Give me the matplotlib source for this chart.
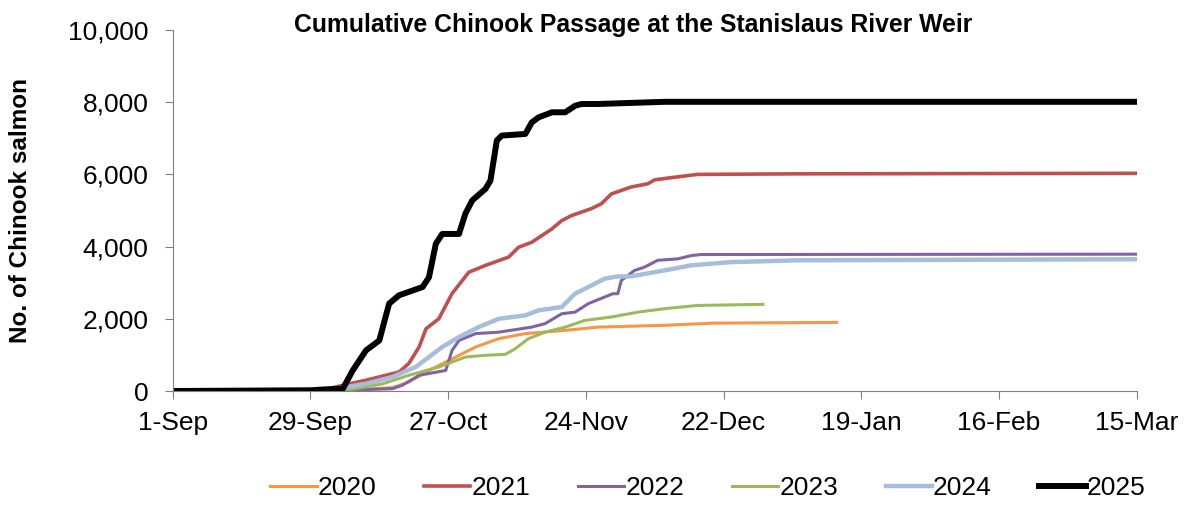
import matplotlib
matplotlib.use("Agg")
import matplotlib.pyplot as plt

plt.rcParams['font.family'] = ['Liberation Sans', 'DejaVu Sans']

# days since 1-Sep, cumulative counts
days_2020 = [0, 30, 35.3, 44.7, 48, 51.5, 56.2, 61.6, 66.3, 71.7, 79.8, 86.5, 100, 110, 135]
vals_2020 = [0, 0, 20, 95, 250, 525, 850, 1220, 1450, 1590, 1680, 1770, 1820, 1880, 1900]

days_2021 = [0, 30, 34.6, 39.3, 42, 46, 48, 50.1, 51.5, 54.1, 56.8, 60.2, 63.6, 68.3, 70.3, 73,
             77.1, 79.1, 81.1, 85.1, 87.2, 89.2, 93.2, 96.6, 98, 102, 106.7, 127, 196]
vals_2021 = [0, 0, 160, 300, 390, 525, 760, 1220, 1725, 2000, 2700, 3290, 3480, 3710, 3980, 4120,
             4490, 4720, 4860, 5050, 5190, 5460, 5650, 5740, 5850, 5920, 6000, 6015, 6030]

days_2022 = [0, 30, 35.3, 39.3, 44.7, 46.7, 50.1, 55.5, 56.8, 58.2, 61.6, 66.3, 73, 75.7, 79.1,
             81.8, 84.5, 89.5, 90.5, 91.2, 93.9, 95.9, 98.6, 102.7, 105.4, 107.4, 196]
vals_2022 = [0, 0, 20, 40, 65, 160, 435, 570, 1125, 1400, 1590, 1630, 1770, 1865, 2140,
             2185, 2420, 2695, 2695, 3060, 3340, 3430, 3620, 3660, 3750, 3780, 3790]

days_2023 = [0, 30, 35.3, 42.7, 48, 54.1, 59.5, 63.6, 67.6, 69.7, 72.3, 75.7, 79.8, 83.8, 89.2,
             94.6, 100, 106.7, 120]
vals_2023 = [0, 0, 20, 200, 435, 665, 940, 990, 1015, 1175, 1450, 1630, 1770, 1955, 2050,
             2185, 2280, 2370, 2400]

days_2024 = [0, 30, 35.3, 39.3, 44.7, 49.4, 54.8, 58.2, 62.2, 66.3, 71.7, 74.4, 79.1, 81.8, 84.5,
             87.8, 90.5, 93.2, 100, 105.4, 113.5, 127, 196]
vals_2024 = [0, 0, 110, 200, 390, 665, 1220, 1495, 1770, 2000, 2095, 2235, 2325, 2695, 2880,
             3110, 3175, 3175, 3340, 3480, 3570, 3620, 3650]

days_2025 = [0, 28, 33, 34.6, 36.6, 39.3, 42, 44, 46, 50.8, 52.1, 53.5, 54.8, 58.2, 59.5, 60.9,
             63.6, 64.6, 65.9, 66.9, 71.7, 73, 74.4, 77.1, 79.8, 81.8, 83.1, 86.5, 100, 196]
vals_2025 = [0, 20, 60, 65, 570, 1125, 1400, 2420, 2650, 2880, 3150, 4080, 4350, 4350, 4910, 5280,
             5600, 5830, 6940, 7075, 7120, 7440, 7580, 7720, 7720, 7900, 7950, 7950, 8010, 8010]

tick_days = [0, 28, 56, 84, 112, 140, 168, 196]
tick_labels = ["1-Sep", "29-Sep", "27-Oct", "24-Nov", "22-Dec", "19-Jan", "16-Feb", "15-Mar"]

fig = plt.figure(figsize=(11.88, 5.08), dpi=100)
ax = fig.add_axes([0.1454, 0.2303, 0.8114, 0.7107])

ax.plot(days_2020, vals_2020, color='#F79646', lw=2.2, label='2020')
ax.plot(days_2021, vals_2021, color='#C0504D', lw=2.6, label='2021')
ax.plot(days_2022, vals_2022, color='#8064A2', lw=2.2, label='2022')
ax.plot(days_2023, vals_2023, color='#9BBB59', lw=2.2, label='2023')
ax.plot(days_2024, vals_2024, color='#A6BDDB', lw=3.2, label='2024')
ax.plot(days_2025, vals_2025, color='black', lw=4.3, label='2025')

ax.set_xlim(0, 196)
ax.set_ylim(0, 10000)
ax.set_xticks(tick_days)
ax.set_xticklabels(tick_labels)
ax.set_yticks(range(0, 10001, 2000))
ax.set_yticklabels([f"{v:,}" for v in range(0, 10001, 2000)])

for s in ['top', 'right']:
    ax.spines[s].set_visible(False)
for s in ['left', 'bottom']:
    ax.spines[s].set_color('#808080')
ax.tick_params(axis='both', colors='#808080', labelcolor='black', labelsize=19, length=5.5)
ax.tick_params(axis='y', pad=12)
ax.tick_params(axis='x', pad=9)

ax.set_ylabel("No. of Chinook salmon", fontsize=17.5, fontweight='bold', labelpad=26)
fig.text(0.533, 1 - 25 / 508, "Cumulative Chinook Passage at the Stanislaus River Weir",
         fontsize=17.8, fontweight='bold', ha='center', va='center')

fig.legend(*ax.get_legend_handles_labels(), loc='center', bbox_to_anchor=(0.596, 0.039),
           ncol=6, frameon=False, fontsize=19, handlelength=1.75, handletextpad=0.05,
           columnspacing=1.8, borderaxespad=0)

fig.savefig("out.png", dpi=100)
